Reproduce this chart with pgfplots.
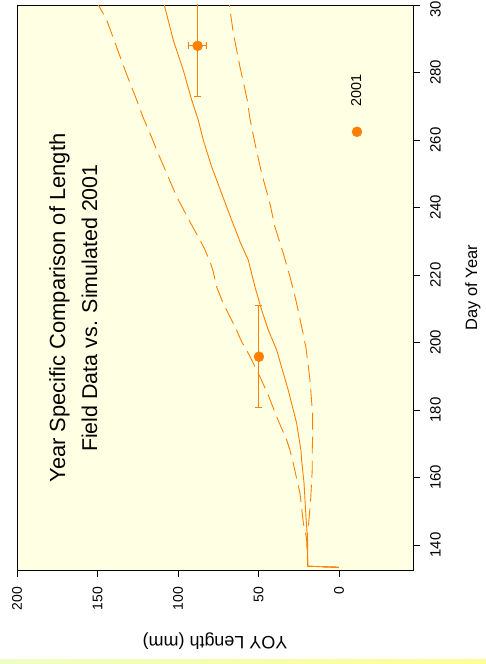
\documentclass[border=0pt]{standalone}
\usepackage{pgfplots}
\pgfplotsset{compat=1.18}
\usepackage{fontspec}
\setmainfont{Liberation Sans}
\definecolor{ora}{RGB}{255,128,0}
\definecolor{bgy}{RGB}{255,255,228}
\pgfplotstableread{
day len
133.4 0
133.7 19.4
141.5 19.5
148.4 20.5
158.4 21.7
165.2 23.2
168.0 23.6
176.1 26.3
185.9 31.5
191.0 34.6
197.8 38.7
203.7 43.9
209.6 48.0
216.5 52.2
224.4 56.3
229.9 61.5
233.8 64.6
236.3 66.7
244.2 72.9
252.1 79.1
260.0 84.3
265.9 87.4
271.9 91.5
280.7 96.7
289.6 102.9
300.0 108.5
}\meanline
\pgfplotstableread{
day len
133.4 0
133.7 19.4
142.0 20.1
146.4 22.1
155.3 24.2
164.2 28.4
168.1 30.4
171.1 32.5
178.0 38.7
184.4 43.9
189.9 49.1
196.8 56.3
200.2 60.4
204.7 64.6
211.6 71.9
216.5 76.0
221.0 78.1
224.0 80.1
227.4 83.2
230.4 86.3
234.8 91.5
243.2 100.8
257.0 113.2
262.0 117.4
266.5 121.5
271.9 125.7
280.7 132.9
295.6 144.3
300.0 149.5
}\upperline
\pgfplotstableread{
day len
133.4 0
133.7 19.4
142.1 19.7
145.4 19.0
153.3 17.6
162.2 16.6
168.1 16.6
171.1 16.4
179.0 16.4
188.9 18.0
198.5 20.5
204.7 23.2
211.6 26.3
219.5 30.4
226.4 34.6
234.3 39.8
241.2 42.9
250.1 48.0
259.0 52.2
266.4 55.3
271.9 57.0
281.7 61.5
291.6 65.6
300.0 68.1
}\lowerline
\begin{document}
\begin{tikzpicture}
\useasboundingbox (0,0) rectangle (486bp,664bp);
\fill[left color={rgb,255:red,238;green,255;blue,196}, right color={rgb,255:red,255;green,255;blue,150}] (0,0) rectangle (486bp,4.5bp);
\begin{scope}[transform canvas={xshift=486bp, rotate=90}]
\begin{axis}[
  at={(94bp,73bp)}, anchor=south west,
  scale only axis, width=565bp, height=396bp,
  xmin=132.6, xmax=300, ymin=-46, ymax=200,
  xtick={140,160,...,300}, ytick={0,50,...,200},
  tick align=outside, xtick pos=left, ytick pos=left,
  major tick length=7bp,
  axis background/.style={fill=bgy},
  axis line style={black, line width=0.8bp},
  tick style={black, line width=0.8bp},
  /pgf/number format/assume math mode=true,
  xticklabel style={font=\fontsize{15}{17}\selectfont, anchor=north, inner sep=0pt},
  yticklabel style={font=\fontsize{14}{16}\selectfont, anchor=east, inner sep=0pt},
  xticklabel shift=10bp, yticklabel shift=10bp,
  xlabel={Day of Year}, ylabel={YOY Length (mm)},
  xlabel style={font=\fontsize{16.5}{18}\selectfont, at={(axis description cs:0.5,0)}, anchor=base, yshift=-64bp, inner sep=0pt},
  ylabel style={font=\fontsize{18}{20}\selectfont, at={(axis description cs:0,0.5)}, anchor=base, yshift=67bp, inner sep=0pt},
  legend style={draw=none, fill=none, at={(axis cs:260.9,-11.2)}, anchor=west, inner sep=0pt, outer sep=0pt,
    font=\fontsize{14.4}{16}\selectfont, nodes={inner sep=0pt},
    /tikz/every odd column/.append style={column sep=20bp}},
  legend image code/.code={\fill[ora] (5bp,0) circle (5bp);},
]
\addplot[ora, line width=0.9bp, forget plot] table[x=day, y=len] {\meanline};
\addplot[ora, line width=0.9bp, dash pattern=on 17bp off 7bp, forget plot] table[x=day, y=len] {\upperline};
\addplot[ora, line width=0.9bp, dash pattern=on 17bp off 7bp, forget plot] table[x=day, y=len] {\lowerline};
\addplot[ora, only marks, mark=*, mark size=5bp, mark options={fill=ora, draw=ora},
  error bars/.cd, x dir=both, x explicit, y dir=both, y explicit,
  error bar style={line width=1bp, draw=ora, color=ora},
  error mark options={rotate=90, mark size=3.5bp, line width=1bp, draw=ora, color=ora}]
  coordinates {(195.8,49.7) +- (15.1,0) (287.9,87.8) +- (15.1,5.5)};
\addlegendentry{2001}
\node[anchor=base, font=\fontsize{22}{24}\selectfont] at (axis cs:210.2,170.1) {Year Specific Comparison of Length};
\node[anchor=base, font=\fontsize{21.5}{24}\selectfont] at (axis cs:210.2,150.3) {Field Data vs. Simulated 2001};
\end{axis}
\end{scope}
\end{tikzpicture}
\end{document}
